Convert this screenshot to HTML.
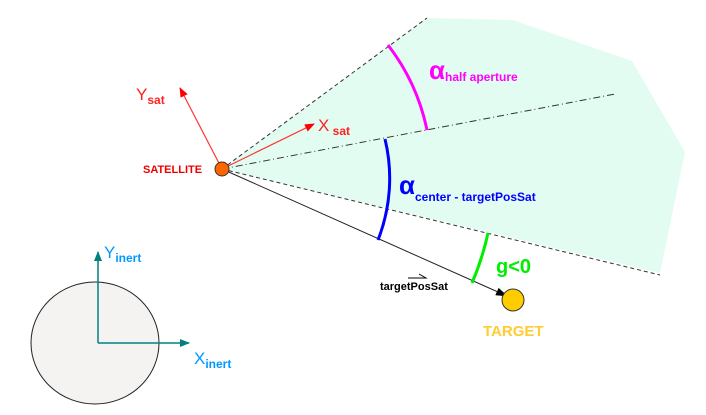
<!DOCTYPE html>
<html><head><style>body{margin:0;background:#fff}svg{display:block}</style></head><body>
<svg width="706" height="415" viewBox="0 0 706 415" xmlns="http://www.w3.org/2000/svg" font-family="Liberation Sans, Arial, sans-serif">
<defs>
<marker id="ar" markerWidth="10" markerHeight="8" refX="9" refY="4" orient="auto" markerUnits="userSpaceOnUse"><path d="M0,0 L10,4 L0,8 z" fill="#f00"/></marker>
<marker id="at" markerWidth="10" markerHeight="8" refX="9" refY="4" orient="auto" markerUnits="userSpaceOnUse"><path d="M0,0 L10,4 L0,8 z" fill="#008080"/></marker>
<marker id="ak" markerWidth="12" markerHeight="8" refX="11" refY="4" orient="auto" markerUnits="userSpaceOnUse"><path d="M0,0 L12,4 L0,8 z" fill="#000"/></marker>
</defs>
<polygon points="222,169 427,18 513,20 632,61 685,152 660,273" fill="#e3fcf2"/>
<line x1="222" y1="169" x2="427" y2="18" stroke="#333" stroke-width="1" stroke-dasharray="4,3"/>
<line x1="222" y1="169" x2="660" y2="275" stroke="#333" stroke-width="1" stroke-dasharray="4,3"/>
<line x1="222" y1="169" x2="615" y2="94" stroke="#333" stroke-width="1" stroke-dasharray="7,3,1,3"/>
<line x1="222" y1="169" x2="507" y2="296" stroke="#222" stroke-width="1" marker-end="url(#ak)"/>
<path d="M388,45 A208,208 0 0 1 427,130" fill="none" stroke="#f0f" stroke-width="3"/>
<path d="M385,139 A168,168 0 0 1 378,240" fill="none" stroke="#00f" stroke-width="3"/>
<path d="M488,233 A273,273 0 0 1 472,283" fill="none" stroke="#0e0" stroke-width="3"/>
<line x1="222" y1="169" x2="314" y2="124" stroke="#f33" stroke-width="1.2" marker-end="url(#ar)"/>
<line x1="222" y1="169" x2="180" y2="88" stroke="#f33" stroke-width="1.2" marker-end="url(#ar)"/>
<circle cx="222" cy="169" r="7" fill="#f60" stroke="#333" stroke-width="1"/>
<circle cx="513" cy="300" r="11" fill="#fc0" stroke="#333" stroke-width="1"/>
<ellipse cx="95" cy="343" rx="64" ry="61" fill="#f4f3f2" stroke="#222" stroke-width="1"/>
<line x1="98" y1="343" x2="98" y2="252" stroke="#008080" stroke-width="1.5" marker-end="url(#at)"/>
<line x1="98" y1="343" x2="189" y2="343" stroke="#008080" stroke-width="1.5" marker-end="url(#at)"/>
<text x="143" y="173" fill="#e00" font-size="11" font-weight="bold">SATELLITE</text>
<text x="136" y="100" fill="#f22" font-size="17">Y<tspan font-size="12" font-weight="bold" dy="4">sat</tspan></text>
<text x="318" y="131" fill="#f22" font-size="17">X<tspan font-size="12" font-weight="bold" dy="4"> sat</tspan></text>
<text x="429" y="79" fill="#f0f" font-size="26" font-weight="bold">α<tspan font-size="12" dy="2">half aperture</tspan></text>
<text x="399" y="194" fill="#00f" font-size="26" font-weight="bold">α<tspan font-size="12" dy="7">center - targetPosSat</tspan></text>
<text x="496" y="273" fill="#0e0" font-size="20" font-weight="bold">g&lt;0</text>
<text x="380" y="290" fill="#000" font-size="11" font-weight="bold">targetPosSat</text>
<path d="M408,278 L426,278 L419,274" fill="none" stroke="#000" stroke-width="1"/>
<text x="483" y="336" fill="#fc3" font-size="15" font-weight="bold">TARGET</text>
<text x="104" y="258" fill="#09f" font-size="17">Y<tspan font-size="12" font-weight="bold" dy="4">inert</tspan></text>
<text x="194" y="364" fill="#09f" font-size="17">X<tspan font-size="12" font-weight="bold" dy="4">inert</tspan></text>
</svg>
</body></html>
